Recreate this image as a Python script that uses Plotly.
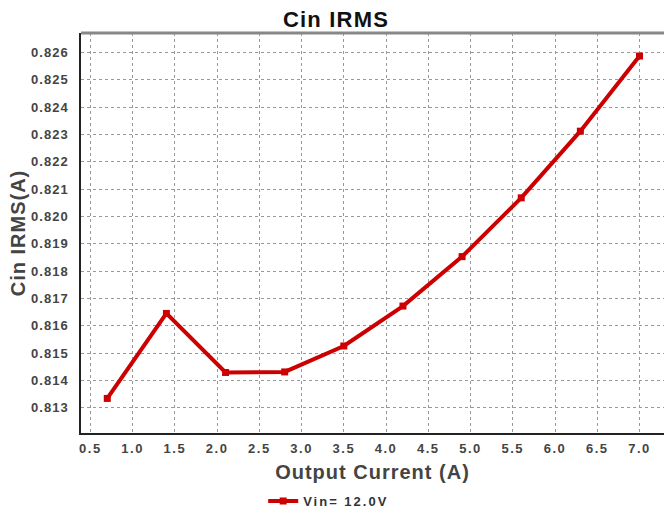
import plotly.graph_objects as go

output_current = [0.7, 1.4, 2.1, 2.8, 3.5, 4.2, 4.9, 5.6, 6.3, 7.0]
cin_irms = [0.81334, 0.81645, 0.81429, 0.81431, 0.81526, 0.81672, 0.81853,
            0.82068, 0.82312, 0.82587]
series_name = "Vin= 12.0V"

x_ticks = [0.5, 1.0, 1.5, 2.0, 2.5, 3.0, 3.5, 4.0, 4.5, 5.0, 5.5, 6.0, 6.5, 7.0]
y_ticks = [0.813, 0.814, 0.815, 0.816, 0.817, 0.818, 0.819, 0.820, 0.821,
           0.822, 0.823, 0.824, 0.825, 0.826]

FONT = "Liberation Sans, Arial, sans-serif"
RED = "#cc0000"


def spaced(text, px):
    return f'<span style="letter-spacing:{px}px">{text}</span>'


fig = go.Figure()
fig.add_trace(go.Scatter(
    x=output_current, y=cin_irms, name=spaced(series_name, 2),
    mode="lines+markers",
    line=dict(color=RED, width=4),
    marker=dict(symbol="square", size=7, color=RED),
))

fig.update_layout(
    width=664, height=515,
    margin=dict(l=81, r=0, t=33, b=82, autoexpand=False),
    paper_bgcolor="white", plot_bgcolor="white",
    title=dict(text="<b>" + spaced("Cin IRMS", 1.2) + "</b>", x=336 / 664,
               xref="container", xanchor="center",
               y=1 - 19 / 515, yref="container", yanchor="middle",
               font=dict(family=FONT, size=22, color="#111")),
    showlegend=True,
    legend=dict(orientation="h", xref="container", yref="container",
                x=0.495, xanchor="center", y=1 - 501 / 515, yanchor="middle",
                font=dict(family=FONT, size=13, color="#333", weight="bold"),
                itemwidth=30, bgcolor="rgba(0,0,0,0)"),
    font=dict(family=FONT),
)

fig.update_xaxes(
    range=[0.389, 7.29], tickvals=x_ticks,
    ticktext=[spaced(f"{v:.1f}", 1.5) for v in x_ticks],
    showgrid=True, gridcolor="#999", griddash="dot", gridwidth=1,
    showline=True, linecolor="#222", linewidth=1.5, ticks="", zeroline=False,
    automargin=True, ticklabelstandoff=3,
    tickfont=dict(family=FONT, size=13, color="#444", weight="bold"),
    title=dict(text="<b>" + spaced("Output Current (A)", 1) + "</b>", standoff=10,
               font=dict(family=FONT, size=20, color="#444")),
)
fig.update_yaxes(
    range=[0.812075, 0.826713], tickvals=y_ticks,
    ticktext=[spaced(f"{v:.3f}", 1) for v in y_ticks],
    showgrid=True, gridcolor="#999", griddash="dot", gridwidth=1,
    showline=True, linecolor="#222", linewidth=1.5, ticks="", zeroline=False,
    automargin=True, ticklabelstandoff=8,
    tickfont=dict(family=FONT, size=13, color="#444", weight="bold"),
    title=dict(text="<b>" + spaced("Cin IRMS(A)", 1) + "</b>", standoff=0,
               font=dict(family=FONT, size=20, color="#444")),
)

fig.add_shape(type="line", xref="paper", yref="paper", x0=0, x1=1, y0=1, y1=1,
              line=dict(color="#888", width=3))

fig.write_html("out.html", config={"displayModeBar": False},
               post_script="document.body.style.margin='0px';")
